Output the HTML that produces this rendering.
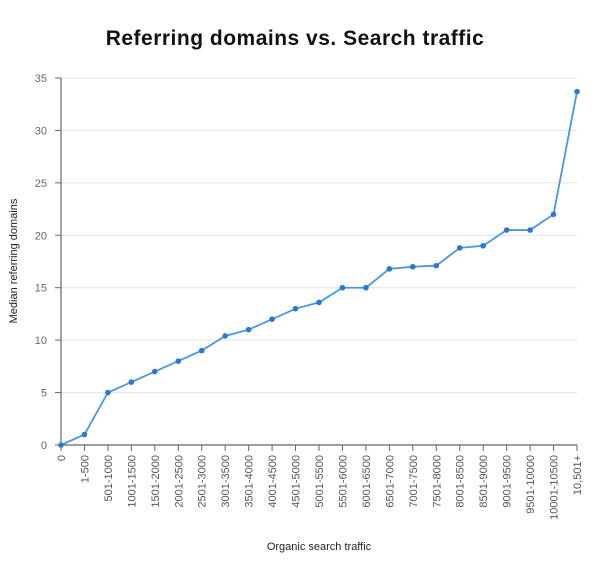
<!DOCTYPE html>
<html><head><meta charset="utf-8"><style>
body{margin:0;background:#fff;width:600px;height:577px;overflow:hidden}
text{font-family:"Liberation Sans",sans-serif}
</style></head><body>
<svg id="chart" width="600" height="577" xmlns="http://www.w3.org/2000/svg">
<text x="295" y="45" text-anchor="middle" font-size="21" font-weight="bold" fill="#111" letter-spacing="0.5">Referring domains vs. Search traffic</text>
<g id="grid"></g><g id="axes"></g><g id="series"></g>
<text x="319" y="550" text-anchor="middle" font-size="11" fill="#222">Organic search traffic</text>
<text transform="translate(17,261) rotate(-90)" text-anchor="middle" font-size="11" fill="#222">Median referring domains</text>
</svg>
<script>
const categories=["0","1-500","501-1000","1001-1500","1501-2000","2001-2500","2501-3000","3001-3500","3501-4000","4001-4500","4501-5000","5001-5500","5501-6000","6001-6500","6501-7000","7001-7500","7501-8000","8001-8500","8501-9000","9001-9500","9501-10000","10001-10500","10,501+"];
const values=[0,1,5,6,7,8,9,10.4,11,12,13,13.6,15,15,16.8,17,17.1,18.8,19,20.5,20.5,22,33.7];
const yTicks=[0,5,10,15,20,25,30,35];
const NS="http://www.w3.org/2000/svg";
const x0=61,x1=577,y0=445,y1=78,yMax=35;
const xs=i=>x0+i*(x1-x0)/(categories.length-1);
const ys=v=>y0-v*(y0-y1)/yMax;
function mk(t,a,p){const e=document.createElementNS(NS,t);for(const k in a)e.setAttribute(k,a[k]);p.appendChild(e);return e;}
const grid=document.getElementById('grid'),axes=document.getElementById('axes'),ser=document.getElementById('series');
yTicks.forEach(v=>{
 if(v>0){const g=mk('line',{x1:x0,x2:x1,y1:ys(v),y2:ys(v),stroke:'#e3e3e3','stroke-width':1},grid);
 }
 mk('line',{x1:x0-6,x2:x0,y1:ys(v),y2:ys(v),stroke:'#666'},axes);
 const t=mk('text',{x:x0-14,y:ys(v)+4,'text-anchor':'end','font-size':11,fill:'#666'},axes);t.textContent=v;
 
});
mk('line',{x1:x0,x2:x0,y1:y1,y2:y0,stroke:'#666','stroke-width':1.2},axes);
mk('line',{x1:x0,x2:x1,y1:y0,y2:y0,stroke:'#666','stroke-width':1.2},axes);
categories.forEach((c,i)=>{
 mk('line',{x1:xs(i),x2:xs(i),y1:y0,y2:y0+6,stroke:'#666'},axes);
 const t=mk('text',{transform:`translate(${xs(i)+4},455) rotate(-90)`,'text-anchor':'end','font-size':11,fill:'#555'},axes);t.textContent=c;
 
});
const pl=mk('polyline',{points:values.map((v,i)=>xs(i)+','+ys(v)).join(' '),fill:'none',stroke:'#4a97e0','stroke-width':1.8},ser);

values.forEach((v,i)=>{const c=mk('circle',{cx:xs(i),cy:ys(v),r:2.8,fill:'#2a78d0'},ser);
 });
</script>
</body></html>
